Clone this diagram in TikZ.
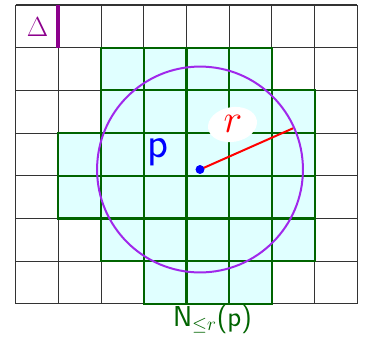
\documentclass[tikz,border=0pt]{standalone}
\usetikzlibrary{shapes.geometric}
\definecolor{cellcyan}{RGB}{224,255,255}
\definecolor{cellgreen}{RGB}{0,100,0}
\definecolor{ringviolet}{RGB}{160,40,235}
\definecolor{deltapurple}{RGB}{140,0,140}
\begin{document}
\begin{tikzpicture}[x=0.75pt,y=-0.75pt,
  gridline/.style={draw=black!80,line width=0.8pt},
  cellfill/.style={fill=cellcyan},
  celledge/.style={draw=cellgreen,line width=1.6pt},
  ring/.style={draw=ringviolet,line width=1.5pt},
  radline/.style={draw=red,line width=1.5pt},
  dotnode/.style={circle,fill=blue,inner sep=0pt,minimum size=6.5pt},
  blob/.style={ellipse,fill=white,inner sep=0pt,minimum width=37pt,minimum height=26pt},
  bar/.style={draw=deltapurple,line width=3.2pt}]
\useasboundingbox (0,0) rectangle (366,337);
% grid
\foreach \i in {0,...,8}
  \draw[gridline] ({15.7+\i*42.7},5) -- ({15.7+\i*42.7},303.9);
\foreach \j in {0,...,7}
  \draw[gridline] (15.7,{5+\j*42.7}) -- (357.3,{5+\j*42.7});
% neighbourhood cells
\foreach \r/\a/\b in {1/2/5,2/2/6,3/1/6,4/1/6,5/2/6,6/3/5}{
  \foreach \c in {\a,...,\b}
    \path[cellfill] ({15.7+\c*42.7},{5+\r*42.7}) rectangle ++(42.7,42.7);
}
\foreach \r/\a/\b in {1/2/5,2/2/6,3/1/6,4/1/6,5/2/6,6/3/5}{
  \foreach \c in {\a,...,\b}
    \path[celledge] ({15.7+\c*42.7},{5+\r*42.7}) rectangle ++(42.7,42.7);
}
% delta marker
\coordinate (bartop) at (58,5);
\coordinate (barbot) at (58,47.7);
\draw[bar] (bartop) -- (barbot);
\node[text=deltapurple,inner sep=0pt] (delta) at (37.5,27.5) {\scalebox{1.2}{\LARGE$\Delta$}};
% circle and radius
\node[dotnode] (pt) at (200,169.5) {};
\draw[ring] (pt.center) circle[radius=77.2pt];
\coordinate (rend) at (293,128.3);
\draw[radline] (pt.center) -- (rend);
\node[dotnode] (ptdot) at (pt.center) {};
\node[blob,rotate=10] (rblob) at (232.5,124.5) {};
\node[text=red,inner sep=0pt] (rlab) at (233,124) {\scalebox{1.2}{\Huge$r$}};
\node[text=blue,inner sep=0pt] (plab) at (158,152.5) {\scalebox{1.2}{\fontsize{27}{27}\selectfont\sffamily p}};
\node[text=cellgreen,inner sep=0pt,anchor=base] (nlab) at (212.5,326.5)
  {\scalebox{1.2}{\fontsize{18}{18}\selectfont\sffamily N$_{\le r}$(p)}};
\end{tikzpicture}
\end{document}
